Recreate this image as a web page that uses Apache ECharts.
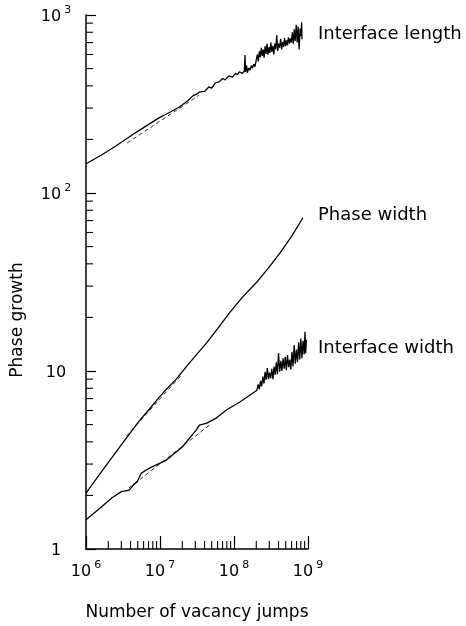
<!DOCTYPE html>
<html>
<head>
<meta charset="utf-8">
<script src="https://cdn.jsdelivr.net/npm/echarts@6/dist/echarts.min.js"></script>
<style>
  html, body { margin: 0; padding: 0; background: #fff; }
  #chart { width: 466px; height: 626px; }
</style>
</head>
<body>
<div id="chart"></div>
<script>
  // interface length (number of vacancy jumps, value)
  const lengthJumps = [1.0e6, 1.6e6, 2.5e6, 4.2e6, 6.0e6, 9.8e6, 1.4e7, 1.83e7, 2.4e7, 2.8e7, 3.1e7, 3.4e7,
    4.0e7, 4.6e7, 5.0e7, 5.6e7, 6.3e7, 7.0e7, 7.6e7, 8.5e7, 9.5e7, 1.05e8, 1.12e8, 1.18e8, 1.3e8, 1.38e8,
    1.41e8, 1.43e8, 1.48e8, 1.52e8, 1.58e8, 1.65e8, 1.72e8, 1.78e8, 1.85e8, 1.92e8, 2.0e8, 2.07e8, 2.13e8,
    2.2e8, 2.27e8, 2.34e8, 2.41e8, 2.48e8, 2.55e8, 2.63e8, 2.71e8, 2.8e8, 2.88e8, 2.97e8, 3.06e8, 3.15e8,
    3.25e8, 3.35e8, 3.45e8, 3.56e8, 3.67e8, 3.78e8, 3.9e8, 4.02e8, 4.14e8, 4.27e8, 4.4e8, 4.54e8, 4.68e8,
    4.82e8, 4.97e8, 5.12e8, 5.28e8, 5.44e8, 5.61e8, 5.78e8, 5.96e8, 6.14e8, 6.33e8, 6.52e8, 6.72e8, 6.93e8,
    7.14e8, 7.36e8, 7.59e8, 7.82e8, 8.06e8, 8.2e8, 8.3e8];
  const lengthValues = [146, 163, 183, 212, 233, 265, 286, 304, 331, 352, 358, 369,
    372, 395, 388, 415, 421, 440, 432, 455, 448, 470, 462, 480, 470, 485,
    596, 478, 520, 475, 505, 490, 520, 503, 530, 512, 560, 600, 548,
    625, 580, 655, 590, 640, 575, 668, 605, 690, 598, 660, 612, 700,
    620, 672, 600, 690, 640, 770, 628, 690, 655, 735, 640, 705, 662,
    742, 668, 720, 675, 750, 690, 738, 700, 800, 690, 830, 715, 880,
    700, 860, 640, 840, 760, 910, 730];

  // phase width
  const phaseJumps = [1.0e6, 1.5e6, 2.04e6, 3.0e6, 4.23e6, 5.25e6, 7.16e6, 1.0e7, 1.22e7, 1.66e7, 2.5e7,
    4.27e7, 6.0e7, 8.7e7, 1.3e8, 2.04e8, 3.0e8, 4.17e8, 6.0e8, 8.5e8];
  const phaseValues = [2.06, 2.6, 3.1, 3.85, 4.65, 5.25, 6.1, 7.2, 7.9, 9.0, 11.1,
    14.4, 17.3, 21.2, 26, 31.6, 38.5, 46, 57, 72.4];

  // interface width
  const widthJumps = [1.0e6, 1.5e6, 2.25e6, 3.0e6, 3.85e6, 4.4e6, 4.9e6, 5.6e6, 7.2e6, 1.22e7, 2.0e7,
    3.1e7, 3.4e7, 4.3e7, 5.75e7, 7.9e7, 1.2e8, 2.04e8, 2.12e8, 2.2e8, 2.28e8, 2.36e8, 2.45e8, 2.54e8,
    2.63e8, 2.72e8, 2.82e8, 2.92e8, 3.02e8, 3.13e8, 3.24e8, 3.36e8, 3.48e8, 3.6e8, 3.73e8, 3.86e8, 4.0e8,
    4.14e8, 4.29e8, 4.44e8, 4.6e8, 4.76e8, 4.93e8, 5.1e8, 5.28e8, 5.47e8, 5.66e8, 5.86e8, 6.07e8, 6.28e8,
    6.5e8, 6.73e8, 6.97e8, 7.22e8, 7.47e8, 7.73e8, 8.0e8, 8.28e8, 8.57e8, 8.87e8, 9.1e8, 9.3e8, 9.5e8];
  const widthValues = [1.46, 1.68, 1.94, 2.1, 2.14, 2.3, 2.38, 2.67, 2.85, 3.16, 3.74,
    4.67, 4.97, 5.1, 5.44, 6.04, 6.7, 7.8, 8.4, 7.9, 8.8, 8.2, 9.3, 8.5,
    9.9, 8.9, 10.4, 9.0, 9.8, 9.1, 10.3, 9.0, 10.6, 9.5, 11.2, 9.6, 12.6,
    9.9, 11.4, 10.0, 11.8, 10.3, 12.0, 10.1, 12.3, 10.5, 11.6, 10.2, 12.8, 10.6,
    14.0, 11.0, 13.2, 11.2, 14.5, 11.6, 15.2, 11.8, 14.8, 12.4, 16.6, 12.6, 15.0];

  // fitted power laws (dashed), two end points each
  const lengthFitJumps = [3.6e6, 3.4e7];
  const lengthFitValues = [191, 355];
  const phaseFitJumps = [3.5e6, 2.0e7];
  const phaseFitValues = [4.3, 9.6];
  const widthFitJumps = [3.8e6, 4.7e7];
  const widthFitValues = [2.2, 4.98];

  // minor ticks of both log axes
  const xMinorTicks = [2e6, 3e6, 4e6, 5e6, 6e6, 7e6, 8e6, 9e6,
    2e7, 3e7, 4e7, 5e7, 6e7, 7e7, 8e7, 9e7,
    2e8, 3e8, 4e8, 5e8, 6e8, 7e8, 8e8, 9e8];
  const yMinorTicks = [2, 3, 4, 5, 6, 7, 8, 9,
    20, 30, 40, 50, 60, 70, 80, 90,
    200, 300, 400, 500, 600, 700, 800, 900];

  const curveNames = ['Interface length', 'Phase width', 'Interface width'];

  const font = 'DejaVu Sans';
  const ink = '#000';

  function pairs(xs, ys) {
    return xs.map(function (x, i) { return [x, ys[i]]; });
  }

  // 10^n as real text with a raised exponent
  function powerLabel(value, keepSmall) {
    const n = Math.round(Math.log10(value));
    if (keepSmall && n === 0) return '{b|1}';
    if (keepSmall && n === 1) return '{b|10}';
    return '{b|10}{s|' + n + '}';
  }

  const labelRich = {
    b: { fontFamily: font, fontSize: 16, color: ink, lineHeight: 20, verticalAlign: 'bottom' },
    s: { fontFamily: font, fontSize: 11, color: ink, lineHeight: 20, verticalAlign: 'top', padding: [0, 0, 0, 3] }
  };

  let chart = echarts.init(document.getElementById('chart'));

  const lineStyle = { color: ink, width: 1.3 };
  const fitStyle = { color: ink, width: 0.8, type: [4, 3] };

  let option = {
    animation: false,
    backgroundColor: '#fff',
    grid: { left: 86, right: 158, top: 15, bottom: 77 },
    xAxis: {
      type: 'log',
      logBase: 10,
      min: 1e6,
      max: 1e9,
      name: 'Number of vacancy jumps',
      nameLocation: 'middle',
      nameGap: 55,
      nameTextStyle: { fontFamily: font, fontSize: 17, color: ink },
      axisLine: { lineStyle: { color: ink, width: 1.5 } },
      axisTick: { inside: true, length: 13, lineStyle: { color: ink, width: 1.2 } },
      axisLabel: {
        margin: 11,
        alignMinLabel: 'left',
        formatter: function (v) { return powerLabel(v, false); },
        rich: labelRich
      },
      splitLine: { show: false }
    },
    yAxis: {
      type: 'log',
      logBase: 10,
      min: 1,
      max: 1000,
      name: 'Phase growth',
      nameLocation: 'middle',
      nameGap: 60,
      nameRotate: 90,
      nameTextStyle: { fontFamily: font, fontSize: 17, color: ink, padding: [0, 76, 0, 0] },
      axisLine: { lineStyle: { color: ink, width: 1.5 } },
      axisTick: { inside: true, length: 10, lineStyle: { color: ink, width: 1.2 } },
      axisLabel: {
        margin: 30,
        align: 'center',
        formatter: function (v) { return powerLabel(v, true); },
        rich: labelRich
      },
      splitLine: { show: false }
    },
    graphic: [
      { type: 'text', left: 318, top: 25, style: { text: curveNames[0], font: '18px "DejaVu Sans"', fill: ink } },
      { type: 'text', left: 318, top: 206, style: { text: curveNames[1], font: '18px "DejaVu Sans"', fill: ink } },
      { type: 'text', left: 318, top: 339, style: { text: curveNames[2], font: '18px "DejaVu Sans"', fill: ink } }
    ],
    series: [
      { name: curveNames[0], type: 'line', showSymbol: false, data: pairs(lengthJumps, lengthValues), lineStyle: lineStyle },
      { name: curveNames[1], type: 'line', showSymbol: false, data: pairs(phaseJumps, phaseValues), lineStyle: lineStyle },
      { name: curveNames[2], type: 'line', showSymbol: false, data: pairs(widthJumps, widthValues), lineStyle: lineStyle },
      { name: 'length fit', type: 'line', showSymbol: false, data: pairs(lengthFitJumps, lengthFitValues), lineStyle: fitStyle },
      { name: 'phase fit', type: 'line', showSymbol: false, data: pairs(phaseFitJumps, phaseFitValues), lineStyle: fitStyle },
      { name: 'width fit', type: 'line', showSymbol: false, data: pairs(widthFitJumps, widthFitValues), lineStyle: fitStyle },
      {
        // minor ticks on the jumps axis, pointing up
        type: 'custom',
        silent: true,
        data: xMinorTicks.map(function (v) { return [v, 1]; }),
        renderItem: function (params, api) {
          let p = api.coord([api.value(0), 1]);
          return { type: 'line', shape: { x1: p[0], y1: p[1], x2: p[0], y2: p[1] - 8 }, style: { stroke: ink, lineWidth: 1.1 } };
        }
      },
      {
        // minor ticks on the growth axis, pointing right
        type: 'custom',
        silent: true,
        data: yMinorTicks.map(function (v) { return [1e6, v]; }),
        renderItem: function (params, api) {
          let p = api.coord([1e6, api.value(1)]);
          return { type: 'line', shape: { x1: p[0], y1: p[1], x2: p[0] + 7, y2: p[1] }, style: { stroke: ink, lineWidth: 1.1 } };
        }
      }
    ]
  };

  chart.setOption(option);
</script>
</body>
</html>
